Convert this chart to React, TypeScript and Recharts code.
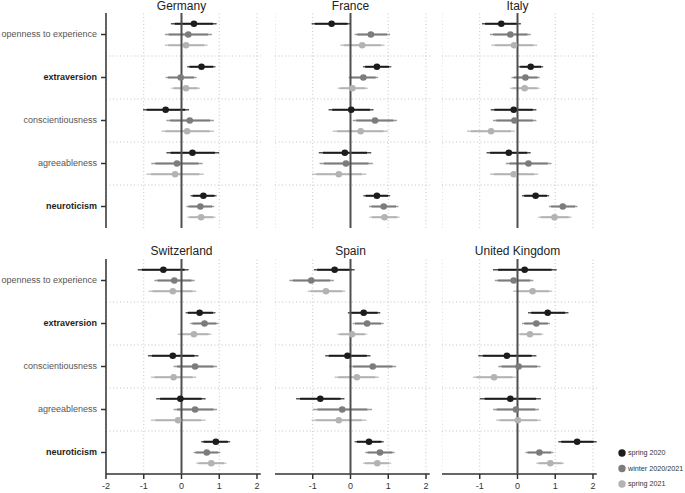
import React from "react";
import { ScatterChart, Scatter, XAxis, YAxis, ErrorBar, ReferenceLine } from "recharts";

const traits = ["openness to experience", "extraversion", "conscientiousness", "agreeableness", "neuroticism"];
const boldTraits = [false, true, false, false, true];
const waves = ["spring 2020", "winter 2020/2021", "spring 2021"];
const waveColors = ["#1c1c1c", "#7c7c7c", "#b3b3b3"];
const xTicks = [-2, -1, 0, 1, 2];

// rows: spring 2020, winter 2020/2021, spring 2021 ; columns: traits
const germanyEst = [[0.33, 0.53, -0.42, 0.29, 0.58], [0.18, -0.02, 0.22, -0.12, 0.5], [0.12, 0.12, 0.15, -0.17, 0.52]];
const germanyLo = [[-0.28, 0.15, -1.02, -0.4, 0.24], [-0.44, -0.42, -0.4, -0.8, 0.13], [-0.44, -0.27, -0.53, -0.93, 0.15]];
const germanyHi = [[0.93, 0.9, 0.2, 1.0, 0.93], [0.81, 0.4, 0.86, 0.56, 0.87], [0.69, 0.49, 0.86, 0.59, 0.9]];

const franceEst = [[-0.5, 0.7, 0.02, -0.15, 0.7], [0.54, 0.34, 0.65, -0.12, 0.88], [0.31, 0.05, 0.27, -0.31, 0.9]];
const franceLo = [[-1.03, 0.33, -0.58, -0.84, 0.34], [0.11, -0.05, 0.06, -0.82, 0.49], [-0.27, -0.34, -0.47, -1.02, 0.5]];
const franceHi = [[0.0, 1.08, 0.61, 0.55, 1.05], [1.05, 0.73, 1.23, 0.59, 1.27], [0.9, 0.46, 0.99, 0.42, 1.3]];

const italyEst = [[-0.43, 0.35, -0.1, -0.23, 0.48], [-0.19, 0.21, -0.08, 0.29, 1.2], [-0.09, 0.19, -0.7, -0.1, 0.98]];
const italyLo = [[-0.94, 0.02, -0.71, -0.82, 0.12], [-0.73, -0.16, -0.65, -0.31, 0.83], [-0.69, -0.2, -1.34, -0.73, 0.55]];
const italyHi = [[0.09, 0.68, 0.5, 0.35, 0.84], [0.35, 0.59, 0.5, 0.9, 1.59], [0.52, 0.59, -0.07, 0.55, 1.43]];

const switzerlandEst = [[-0.48, 0.48, -0.23, -0.03, 0.91], [-0.19, 0.61, 0.36, 0.36, 0.67], [-0.23, 0.33, -0.21, -0.09, 0.79]];
const switzerlandLo = [[-1.16, 0.11, -0.89, -0.67, 0.52], [-0.72, 0.23, -0.21, -0.21, 0.32], [-0.87, -0.1, -0.81, -0.81, 0.39]];
const switzerlandHi = [[0.19, 0.9, 0.45, 0.64, 1.29], [0.35, 0.98, 0.94, 0.94, 1.03], [0.39, 0.79, 0.39, 0.64, 1.19]];

const spainEst = [[-0.42, 0.35, -0.08, -0.8, 0.49], [-1.04, 0.44, 0.59, -0.22, 0.78], [-0.65, 0.04, 0.17, -0.31, 0.71]];
const spainLo = [[-0.97, -0.07, -0.67, -1.44, 0.11], [-1.62, 0.06, -0.03, -1.0, 0.39], [-1.13, -0.35, -0.42, -1.03, 0.33]];
const spainHi = [[0.11, 0.79, 0.53, -0.16, 0.88], [-0.44, 0.88, 1.21, 0.57, 1.17], [-0.14, 0.44, 0.75, 0.42, 1.08]];

const ukEst = [[0.19, 0.8, -0.28, -0.19, 1.58], [-0.1, 0.5, 0.03, -0.04, 0.58], [0.4, 0.33, -0.62, 0.01, 0.87]];
const ukLo = [[-0.65, 0.28, -1.04, -1.0, 1.08], [-0.6, 0.12, -0.51, -0.65, 0.21], [-0.12, 0.02, -1.18, -0.56, 0.5]];
const ukHi = [[1.04, 1.35, 0.5, 0.62, 2.1], [0.42, 0.86, 0.61, 0.57, 0.95], [0.92, 0.68, -0.04, 0.62, 1.23]];

const countries = [
  { name: "Germany", est: germanyEst, lo: germanyLo, hi: germanyHi },
  { name: "France", est: franceEst, lo: franceLo, hi: franceHi },
  { name: "Italy", est: italyEst, lo: italyLo, hi: italyHi },
  { name: "Switzerland", est: switzerlandEst, lo: switzerlandLo, hi: switzerlandHi },
  { name: "Spain", est: spainEst, lo: spainLo, hi: spainHi },
  { name: "United Kingdom", est: ukEst, lo: ukLo, hi: ukHi },
];

const FONT = "'Liberation Sans', Arial, sans-serif";
const UNIT = 37.75;
const PLOT_W = 4.1 * UNIT;
const PLOT_H = 215;
const colLeft = [106, 275, 442];
const rowTop = [13, 259];
const waveOffset = [-0.25, 0, 0.25];
const INNER = 1.645 / 1.96;
const zeroLine = [{ x: 0, y: -0.5 }, { x: 0, y: 4.5 }];

function YTick(props: any) {
  const i = props.payload.value;
  return (
    <text x={props.x} y={props.y} dy="0.33em" textAnchor="end" fontSize={9} fontFamily={FONT}
      fontWeight={boldTraits[i] ? 700 : 400} fill={boldTraits[i] ? "#1e1e1e" : "#555"}>
      {traits[i]}
    </text>
  );
}

function Panel({ c, col, row }: { c: any; col: number; row: number }) {
  const showY = col === 0;
  const showX = row === 1;
  const yW = showY ? 106 : 0;
  const xH = showX ? 25 : 0;
  const series = waves.map((w, k) =>
    traits.map((t, i) => {
      const x = c.est[k][i];
      const lo = c.lo[k][i];
      const hi = c.hi[k][i];
      return {
        x,
        y: i + waveOffset[k],
        err: [x - lo, hi - x],
        errIn: [(x - lo) * INNER, (hi - x) * INNER],
      };
    })
  );
  return (
    <div style={{ position: "absolute", left: colLeft[col] - yW, top: rowTop[row] }}>
      <ScatterChart width={yW + PLOT_W} height={PLOT_H + xH} margin={{ top: 0, right: 0, bottom: 0, left: 0 }}>
        <XAxis type="number" dataKey="x" domain={[-2, 2.1]} allowDataOverflow ticks={xTicks} hide={!showX}
          height={xH} stroke="#333" strokeWidth={1.5} tickSize={5} tickMargin={4}
          tick={{ fontSize: 9, fill: "#333", fontFamily: FONT }} />
        <YAxis type="number" dataKey="y" domain={[-0.5, 4.5]} allowDataOverflow reversed ticks={[0, 1, 2, 3, 4]}
          hide={!showY} width={yW} stroke="#333" strokeWidth={1.5} tickSize={5} tickMargin={4} tick={<YTick />} />
        {[-2, -1, 1, 2].map((v) => (
          <ReferenceLine key={"v" + v} x={v} stroke="#c4c4c4" strokeWidth={1} strokeDasharray="1 2.5" />
        ))}
        {[0.5, 1.5, 2.5, 3.5].map((v) => (
          <ReferenceLine key={"h" + v} y={v} stroke="#c4c4c4" strokeWidth={1} strokeDasharray="1 2.5" />
        ))}
        <Scatter data={zeroLine} isAnimationActive={false} legendType="none"
          line={{ stroke: "#4f4f4f", strokeWidth: 2 }} shape={() => <g />} />
        {series.map((data, k) => (
          <Scatter key={waves[k]} name={waves[k]} data={data} isAnimationActive={false}
            shape={(p: any) => <circle cx={p.cx} cy={p.cy} r={3.3} fill={waveColors[k]} />}>
            <ErrorBar dataKey="err" direction="x" width={0} stroke={waveColors[k]} strokeWidth={1.4} strokeOpacity={0.75} />
            <ErrorBar dataKey="errIn" direction="x" width={0} stroke={waveColors[k]} strokeWidth={2} />
          </Scatter>
        ))}
      </ScatterChart>
    </div>
  );
}

export default function App() {
  return (
    <div style={{ position: "absolute", left: 0, top: 0, width: 685, height: 493, background: "#fff", fontFamily: FONT }}>
      {countries.map((c, idx) => (
        <Panel key={c.name} c={c} col={idx % 3} row={Math.floor(idx / 3)} />
      ))}
      <svg width={685} height={493} style={{ position: "absolute", left: 0, top: 0, pointerEvents: "none" }}>
        {countries.map((c, idx) => {
          const col = idx % 3;
          const row = Math.floor(idx / 3);
          return (
            <text key={c.name} x={colLeft[col] + 2 * UNIT} y={row === 0 ? 9.5 : 255} textAnchor="middle"
              fontSize={12} fontFamily={FONT} fill="#222">
              {c.name}
            </text>
          );
        })}
        {waves.map((w, k) => (
          <g key={w}>
            <circle cx={622} cy={453 + k * 15.5} r={3.7} fill={waveColors[k]} />
            <text x={628} y={453 + k * 15.5} dy="0.33em" fontSize={7.2} fontFamily={FONT} fill="#333">
              {w}
            </text>
          </g>
        ))}
      </svg>
    </div>
  );
}
